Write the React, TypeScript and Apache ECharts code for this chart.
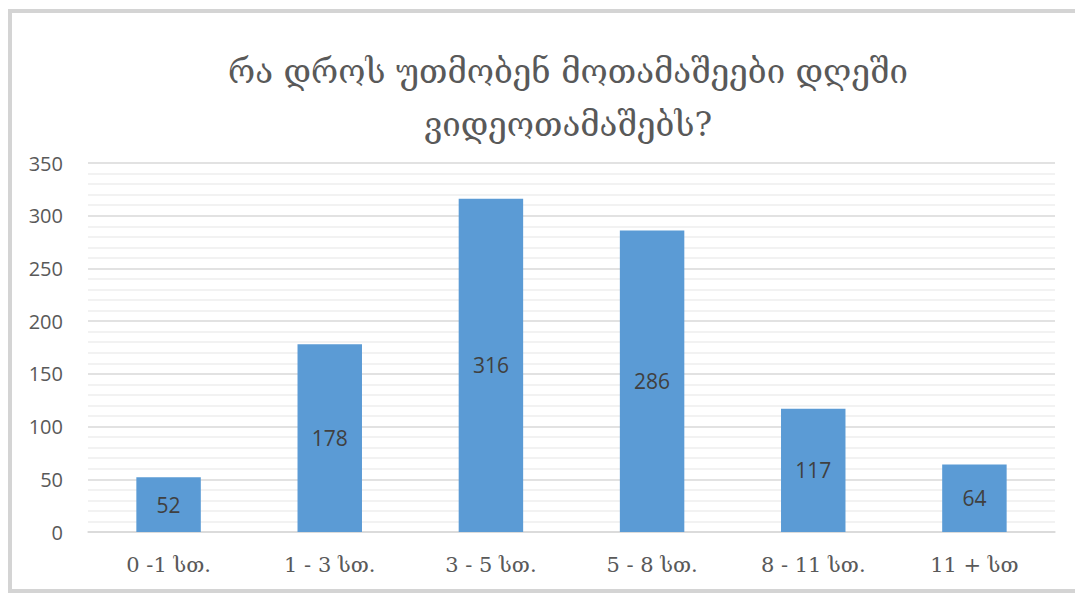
import React, { useEffect, useRef } from "react";
import * as echarts from "echarts";

const categories = ["0 -1 სთ.", "1 - 3 სთ.", "3 - 5 სთ.", "5 - 8 სთ.", "8 - 11 სთ.", "11 + სთ"];
const values = [52, 178, 316, 286, 117, 64];
const titleText = "რა დროს უთმობენ მოთამაშეები დღეში\nვიდეოთამაშებს?";

export default function App() {
  const ref = useRef<HTMLDivElement>(null);
  useEffect(() => {
    const chart = echarts.init(ref.current!, null, { renderer: "svg" });
    chart.setOption({
      animation: false,
      backgroundColor: "#ffffff",
      graphic: [
        {
          type: "rect",
          z: -10,
          shape: { x: 10, y: 11, width: 1080, height: 580 },
          style: { fill: "#ffffff", stroke: "#d4d4d4", lineWidth: 4 },
          silent: true,
        },
      ],
      title: {
        text: titleText,
        left: 563,
        textAlign: "center",
        top: 40,
        textStyle: {
          fontFamily: "DejaVu Serif, DejaVu Sans, serif",
          fontSize: 33,
          fontWeight: "normal",
          color: "#595959",
          lineHeight: 53,
        },
      },
      grid: { left: 88, right: 20, top: 163, bottom: 62 },
      xAxis: {
        type: "category",
        data: categories,
        axisTick: { show: false },
        axisLine: { lineStyle: { color: "#d9d9d9", width: 1.5 } },
        axisLabel: {
          fontFamily: "DejaVu Serif, DejaVu Sans, serif",
          fontSize: 21,
          color: "#595959",
          margin: 22,
        },
      },
      yAxis: {
        type: "value",
        min: 0,
        max: 350,
        interval: 50,
        axisLine: { show: false },
        axisTick: { show: false },
        axisLabel: {
          fontFamily: "Open Sans, Noto Sans, sans-serif",
          fontSize: 20,
          color: "#595959",
          margin: 25,
        },
        splitLine: { lineStyle: { color: "#d9d9d9", width: 1.5 } },
        minorTick: { show: false, splitNumber: 5 },
        minorSplitLine: { show: true, lineStyle: { color: "#eeeeee", width: 1.5 } },
      },
      series: [
        {
          type: "bar",
          data: values,
          barWidth: "40%",
          itemStyle: { color: "#5b9bd5" },
          label: {
            show: true,
            position: "inside",
            fontFamily: "Open Sans, Noto Sans, sans-serif",
            fontSize: 21,
            color: "#404040",
          },
        },
      ],
    });
    return () => chart.dispose();
  }, []);
  return (
    <div
      ref={ref}
      style={{ position: "absolute", left: 0, top: 0, width: 1075, height: 594 }}
    />
  );
}
